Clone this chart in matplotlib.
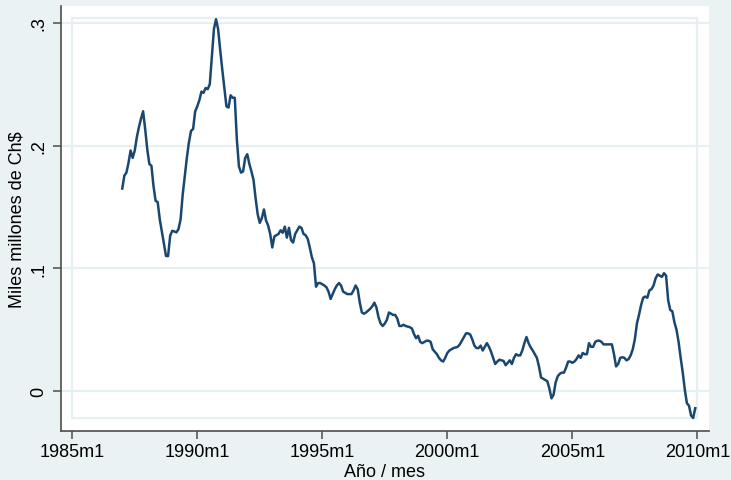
import matplotlib.pyplot as plt
import numpy as np
from matplotlib.patches import Rectangle

plt.rcParams['font.family'] = ['Liberation Sans', 'DejaVu Sans']

# monthly series, 1987m1 .. 2009m12 (one row per year)
start_month = 24  # months after 1985m1
values = [
    0.165, 0.1755, 0.178, 0.186, 0.196, 0.190, 0.196, 0.207, 0.215, 0.222, 0.228, 0.2135,  # 1987
    0.197, 0.185, 0.1836, 0.167, 0.155, 0.154, 0.140, 0.130, 0.120, 0.110, 0.110, 0.1266,  # 1988
    0.1306, 0.130, 0.1293, 0.132, 0.140, 0.160, 0.175, 0.190, 0.2027, 0.212, 0.2135, 0.228,  # 1989
    0.232, 0.237, 0.244, 0.243, 0.247, 0.246, 0.250, 0.272, 0.295, 0.303, 0.295, 0.278,  # 1990
    0.262, 0.247, 0.232, 0.231, 0.241, 0.239, 0.239, 0.205, 0.183, 0.178, 0.179, 0.190,  # 1991
    0.193, 0.185, 0.179, 0.172, 0.157, 0.144, 0.137, 0.141, 0.148, 0.139, 0.135, 0.128,  # 1992
    0.117, 0.126, 0.127, 0.128, 0.131, 0.129, 0.134, 0.125, 0.133, 0.123, 0.121, 0.128,  # 1993
    0.131, 0.134, 0.133, 0.128, 0.127, 0.124, 0.117, 0.109, 0.104, 0.085, 0.088, 0.088,  # 1994
    0.087, 0.086, 0.0845, 0.081, 0.075, 0.079, 0.083, 0.086, 0.088, 0.086, 0.081, 0.080,  # 1995
    0.079, 0.079, 0.079, 0.082, 0.086, 0.083, 0.072, 0.064, 0.063, 0.064, 0.0655, 0.067,  # 1996
    0.069, 0.072, 0.068, 0.060, 0.055, 0.053, 0.055, 0.058, 0.064, 0.063, 0.062, 0.062,  # 1997
    0.059, 0.053, 0.053, 0.054, 0.053, 0.0525, 0.052, 0.051, 0.0465, 0.043, 0.045, 0.040,  # 1998
    0.039, 0.040, 0.041, 0.041, 0.040, 0.034, 0.032, 0.030, 0.027, 0.025, 0.024, 0.027,  # 1999
    0.031, 0.033, 0.034, 0.035, 0.0355, 0.036, 0.038, 0.041, 0.044, 0.047, 0.047, 0.046,  # 2000
    0.042, 0.037, 0.035, 0.035, 0.037, 0.033, 0.036, 0.039, 0.036, 0.032, 0.027, 0.022,  # 2001
    0.024, 0.0255, 0.025, 0.0245, 0.021, 0.023, 0.025, 0.022, 0.027, 0.030, 0.029, 0.029,  # 2002
    0.033, 0.039, 0.044, 0.039, 0.0356, 0.033, 0.030, 0.027, 0.020, 0.011, 0.010, 0.009,  # 2003
    0.008, 0.002, -0.006, -0.003, 0.007, 0.012, 0.014, 0.015, 0.015, 0.019, 0.024, 0.024,  # 2004
    0.023, 0.024, 0.026, 0.029, 0.027, 0.031, 0.030, 0.030, 0.039, 0.036, 0.036, 0.040,  # 2005
    0.041, 0.041, 0.040, 0.038, 0.038, 0.038, 0.038, 0.038, 0.030, 0.020, 0.022, 0.027,  # 2006
    0.0275, 0.027, 0.025, 0.026, 0.029, 0.034, 0.042, 0.055, 0.062, 0.070, 0.076, 0.077,  # 2007
    0.076, 0.082, 0.083, 0.086, 0.092, 0.095, 0.094, 0.093, 0.096, 0.094, 0.074, 0.066,  # 2008
    0.065, 0.056, 0.050, 0.040, 0.027, 0.015, 0.001, -0.010, -0.012, -0.020, -0.022, -0.014,  # 2009
]
xtick_pos = [0, 60, 120, 180, 240, 300]
xtick_labels = ['1985m1', '1990m1', '1995m1', '2000m1', '2005m1', '2010m1']
ytick_pos = [0, 0.1, 0.2, 0.3]
ytick_labels = ['0', '.1', '.2', '.3']

months = np.arange(start_month, start_month + len(values))

bg = '#eaf2f3'
grid_c = '#e6eff1'
axis_c = '#4d4d4d'

fig = plt.figure(figsize=(7.31, 4.81), dpi=100, facecolor=bg)
ax = fig.add_axes([61 / 731, 49 / 481, 648 / 731, 425 / 481])
ax.set_facecolor('white')

ax.set_xlim(-5.4, 305.6)
ax.set_ylim(-0.0326, 0.3138)

for y in ytick_pos:
    ax.axhline(y, color=grid_c, lw=1.6, zorder=1)
ax.add_patch(Rectangle((0, -0.022), 300, 0.326, fill=False,
                       edgecolor=grid_c, lw=1.6, zorder=1))

ax.plot(months, values, color='#1a476f', lw=1.8, zorder=3)

for s in ['top', 'right']:
    ax.spines[s].set_visible(False)
for s in ['left', 'bottom']:
    ax.spines[s].set_color(axis_c)
    ax.spines[s].set_linewidth(1.2)

ax.set_xticks(xtick_pos)
ax.set_xticklabels(xtick_labels)
ax.set_yticks(ytick_pos)
ax.set_yticklabels(ytick_labels, rotation=90, va='center')
ax.tick_params(axis='both', colors=axis_c, labelcolor='black', labelsize=13,
               length=6, width=1.1, direction='out')
ax.tick_params(axis='y', pad=4)
ax.tick_params(axis='x', pad=3)

ax.set_xlabel('Año / mes', fontsize=13, labelpad=2)
ax.set_ylabel('Miles millones de Ch$', fontsize=13, labelpad=3)

fig.savefig('out.png', dpi=100, facecolor=bg)
